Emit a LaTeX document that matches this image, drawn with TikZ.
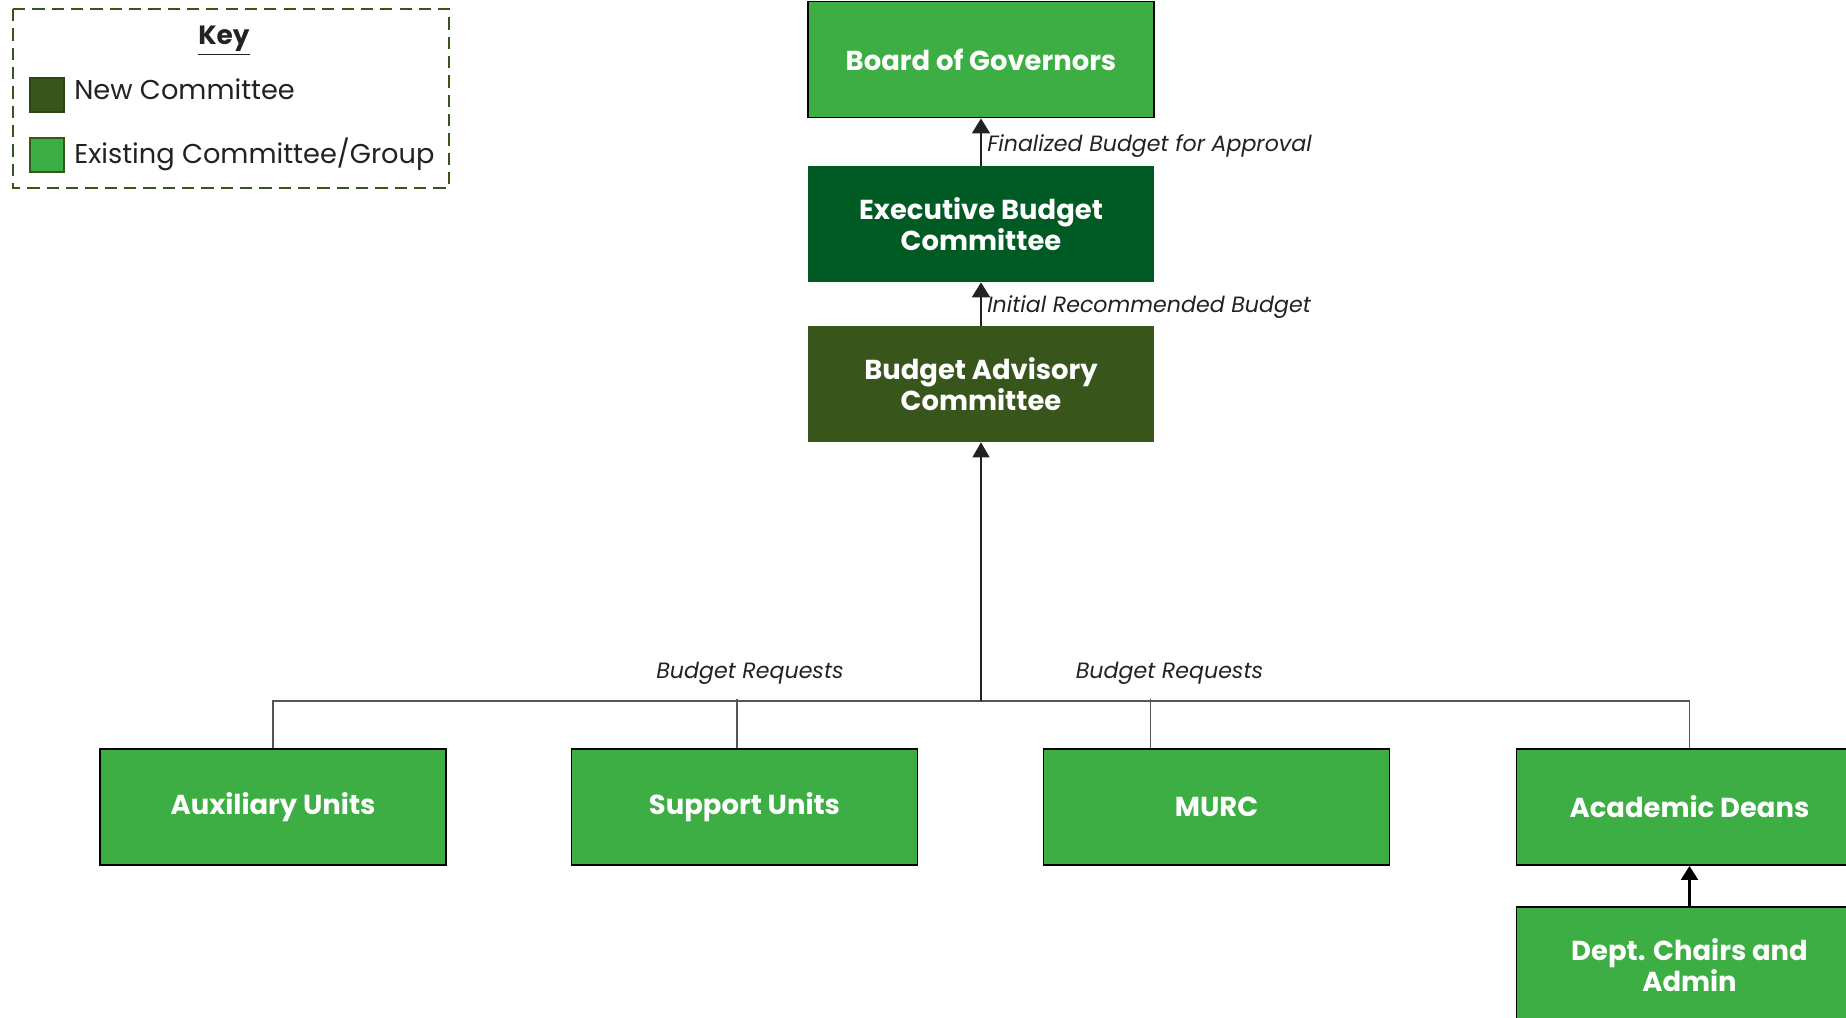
\documentclass[tikz,border=0pt]{standalone}
\usepackage{fontspec}
\setmainfont{Poppins}
\usepackage{xcolor}
\usetikzlibrary{arrows.meta, positioning}

\definecolor{gruenalt}{HTML}{3DAE43}
\definecolor{gruenexec}{HTML}{005A24}
\definecolor{gruenneu}{HTML}{38561C}
\definecolor{liniengrau}{HTML}{555555}
\definecolor{textdunkel}{HTML}{222222}

\tikzset{
    kasten/.style={minimum width=6.92cm, minimum height=2.32cm, inner sep=0pt, align=center,
        text=white, font=\fontsize{15.6}{18}\selectfont\bfseries},
    bestehend/.style={kasten, fill=gruenalt, draw=black, line width=1.1pt},
    neu/.style={kasten, fill=gruenneu},
    exekutiv/.style={kasten, fill=gruenexec},
    fluss/.style={-{Triangle[width=0.36cm, length=0.3cm]}, draw=textdunkel, line width=1.1pt},
    sammel/.style={draw=liniengrau, line width=0.6pt},
    flusstext/.style={right, inner sep=3pt, text=textdunkel, font=\fontsize{12.6}{15}\selectfont\itshape},
    legtext/.style={anchor=base west, inner sep=0pt, text=textdunkel, font=\fontsize{15.5}{18}\selectfont},
}

\begin{document}
\begin{tikzpicture}

    % --- 1. RAHMEN ---
    \useasboundingbox (0,0) rectangle (36.92,20.36);

    % --- 2. OBERE KETTE ---
    \node[bestehend] (bog)  at (19.62,19.17) {Board of Governors};
    \node[exekutiv]  (ebc)  at (19.62,15.88) {Executive Budget\\Committee};
    \node[neu]       (bac)  at (19.62,12.68) {Budget Advisory\\Committee};

    \draw[fluss] (ebc.north) -- (bog.south) node[midway, flusstext, yshift=-0.07cm] {Finalized Budget for Approval};
    \draw[fluss] (bac.north) -- (ebc.south) node[midway, flusstext, yshift=-0.07cm] {Initial Recommended Budget};

    % --- 3. UNTERE REIHE ---
    \node[bestehend] (aux)  at (5.46,4.22)  {Auxiliary Units};
    \node[bestehend] (sup)  at (14.89,4.22) {Support Units};
    \node[bestehend] (murc) at (24.33,4.22) {MURC};
    \node[bestehend] (acad) at (33.79,4.22) {Academic Deans};
    \node[bestehend] (dept) at (33.79,1.06) {Dept. Chairs and\\Admin};

    \draw[-{Triangle[width=0.34cm, length=0.28cm]}, line width=1.3pt] (dept.north) -- (acad.south);

    % --- 4. SAMMELLEITUNG ---
    \coordinate (hub)  at (19.62,6.34);
    \coordinate (reqa) at (14.74,6.38);
    \coordinate (reqb) at (23.01,6.38);

    \draw[sammel] (aux.north) -- (aux.north |- hub) -- (acad.north |- hub) -- (acad.north);
    \draw[sammel] (reqa) -- (reqa |- sup.north);
    \draw[sammel] (reqb) -- (reqb |- murc.north);
    \draw[sammel, -{Triangle[width=0.34cm, length=0.3cm]}, draw=textdunkel] (hub) -- (bac.south);

    \node[flusstext, anchor=base] (reqatxt) at (15.0,6.78)  {Budget Requests};
    \node[flusstext, anchor=base] (reqbtxt) at (23.39,6.78) {Budget Requests};

    % --- 5. LEGENDE ---
    \draw[gruenneu, dashed, dash pattern=on 7pt off 4pt, line width=0.8pt] (0.26,20.18) rectangle (8.98,16.6);
    \node[anchor=base, inner sep=0pt, text=textdunkel, font=\fontsize{15}{18}\selectfont\bfseries]
        (key) at (4.48,19.46) {\underline{Key}};

    \draw[fill=gruenneu, draw=gruenneu!80!black, line width=0.8pt] (0.6,18.8) rectangle (1.28,18.12);
    \draw[fill=gruenalt, draw=gruenneu, line width=0.8pt] (0.6,17.6) rectangle (1.28,16.92);

    \node[legtext] (legneu) at (1.48,18.36) {New Committee};
    \node[legtext] (legalt) at (1.48,17.08) {Existing Committee/Group};

\end{tikzpicture}
\end{document}
